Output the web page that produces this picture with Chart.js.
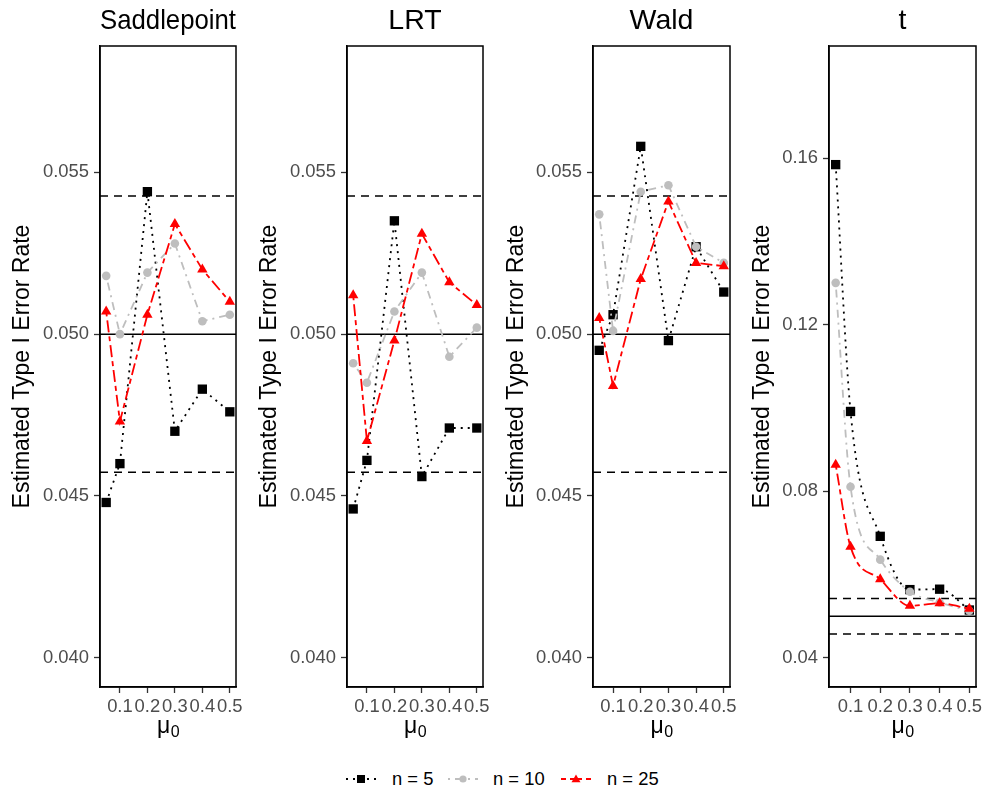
<!DOCTYPE html>
<html>
<head>
<meta charset="utf-8">
<title>Estimated Type I Error Rate</title>
<script src="https://cdn.jsdelivr.net/npm/chart.js@4.4.1/dist/chart.umd.min.js"></script>
<style>
  html, body { margin: 0; padding: 0; background: #fff; }
  #wrap { position: relative; width: 987px; height: 793px; overflow: hidden;
          font-family: "Liberation Sans", Arial, Helvetica, sans-serif; }
  #wrap canvas { position: absolute; top: 0; }
  .key { position: absolute; top: 769px; }
  .lab { position: absolute; top: 768px; font-size: 18.4px; line-height: 22px; color: #000; white-space: nowrap; }
</style>
</head>
<body>
<div id="wrap">
  <canvas id="p0" width="247" height="760" style="left:0px"></canvas>
  <canvas id="p1" width="247" height="760" style="left:247px"></canvas>
  <canvas id="p2" width="247" height="760" style="left:494px"></canvas>
  <canvas id="p3" width="247" height="760" style="left:740px"></canvas>
</div>
<script>
// mu0 values at which the error rates were estimated
const MU0 = [0.05, 0.1, 0.2, 0.3, 0.4, 0.5];
const X_TICKS = [0.1, 0.2, 0.3, 0.4, 0.5];
const X_MIN = 0.0275;
const X_MAX = 0.5225;

const PANEL_TITLES = ['Saddlepoint', 'LRT', 'Wald', 't'];
const SERIES_LABELS = ['n = 5', 'n = 10', 'n = 25'];

// Saddlepoint
const SADDLE_N5  = [0.0448, 0.0460, 0.0544, 0.0470, 0.0483, 0.0476];
const SADDLE_N10 = [0.0518, 0.0500, 0.0519, 0.0528, 0.0504, 0.0506];
const SADDLE_N25 = [0.0507, 0.0473, 0.0506, 0.0534, 0.0520, 0.0510];
// LRT
const LRT_N5  = [0.0446, 0.0461, 0.0535, 0.0456, 0.0471, 0.0471];
const LRT_N10 = [0.0491, 0.0485, 0.0507, 0.0519, 0.0493, 0.0502];
const LRT_N25 = [0.0512, 0.0467, 0.0498, 0.0531, 0.0516, 0.0509];
// Wald
const WALD_N5  = [0.0495, 0.0506, 0.0558, 0.0498, 0.0527, 0.0513];
const WALD_N10 = [0.0537, 0.0501, 0.0544, 0.0546, 0.0527, 0.0522];
const WALD_N25 = [0.0505, 0.0484, 0.0517, 0.0541, 0.0522, 0.0521];
// t
const T_N5  = [0.1585, 0.0992, 0.0692, 0.0564, 0.0565, 0.0515];
const T_N10 = [0.1301, 0.0811, 0.0636, 0.0559, 0.0533, 0.0513];
const T_N25 = [0.0864, 0.0667, 0.0589, 0.0525, 0.0531, 0.0518];

// nominal level and Monte Carlo band
const NOMINAL = 0.05;
const BAND = [0.04573, 0.05427];

const Y_TICKS_ERR = [0.040, 0.045, 0.050, 0.055];
const Y_TICKS_T = [0.04, 0.08, 0.12, 0.16];
const Y_RANGE_ERR = [0.0391, 0.0589];
const Y_RANGE_T = [0.033, 0.187];

const FONT = '"Liberation Sans", Arial, Helvetica, sans-serif';
Chart.defaults.font.family = FONT;

// line/point look for each sample size
const STYLES = [
    { color: '#000000', dash: [2, 5], point: 'rect', radius: 6.6 },
    { color: '#BEBEBE', dash: [2, 5, 8, 5], point: 'circle', radius: 4.3 },
    { color: '#FF0000', dash: [5, 4, 12, 4], point: 'triangle', radius: 6 }
];

// frame around the panel + the mu_0 axis title
const panelFrame = {
    id: 'panelFrame',
    afterDraw(chart) {
        const { ctx, chartArea: a } = chart;
        ctx.save();
        ctx.strokeStyle = '#000';
        ctx.lineWidth = 1.5;
        ctx.strokeRect(a.left, a.top, a.right - a.left, a.bottom - a.top);

        ctx.fillStyle = '#000';
        ctx.textAlign = 'left';
        ctx.textBaseline = 'alphabetic';
        ctx.font = '23px ' + FONT;
        const wMu = ctx.measureText('μ').width;
        ctx.font = '16px ' + FONT;
        const wSub = ctx.measureText('0').width;
        const x0 = (a.left + a.right) / 2 - (wMu + wSub) / 2;
        ctx.font = '23px ' + FONT;
        ctx.fillText('μ', x0, a.bottom + 46);
        ctx.font = '16px ' + FONT;
        ctx.fillText('0', x0 + wMu + 0.5, a.bottom + 50);
        ctx.restore();
    }
};

function refLine(y, dashed) {
    return {
        data: [{ x: X_MIN, y: y }, { x: X_MAX, y: y }],
        borderColor: '#000',
        borderWidth: 1.5,
        borderDash: dashed ? [8, 6] : [],
        pointRadius: 0,
        order: 10
    };
}

function buildPanel(id, title, series, yTicks, yRange, yWidth, digits, smooth) {
    const datasets = series.map((vals, i) => ({
        label: SERIES_LABELS[i],
        data: MU0.map((x, j) => ({ x: x, y: vals[j] })),
        borderColor: STYLES[i].color,
        backgroundColor: STYLES[i].color,
        borderWidth: 1.8,
        borderDash: STYLES[i].dash,
        cubicInterpolationMode: smooth ? 'monotone' : 'default',
        tension: 0,
        pointStyle: STYLES[i].point,
        pointRadius: STYLES[i].radius,
        pointBorderWidth: 0,
        pointBackgroundColor: STYLES[i].color,
        order: 2 - i
    }));
    datasets.push(refLine(NOMINAL, false));
    datasets.push(refLine(BAND[0], true));
    datasets.push(refLine(BAND[1], true));

    return new Chart(document.getElementById(id), {
        type: 'line',
        data: { datasets: datasets },
        plugins: [panelFrame],
        options: {
            responsive: false,
            animation: false,
            events: [],
            layout: { padding: { left: 0, right: 11, top: 0, bottom: 0 } },
            plugins: {
                legend: { display: false },
                tooltip: { enabled: false },
                title: {
                    display: true,
                    text: title,
                    fullSize: false,
                    color: '#000',
                    font: { size: 28.5, weight: 'normal' },
                    padding: { top: 3.8, bottom: 8 }
                }
            },
            scales: {
                x: {
                    type: 'linear',
                    min: X_MIN,
                    max: X_MAX,
                    afterBuildTicks: scale => { scale.ticks = X_TICKS.map(v => ({ value: v })); },
                    afterFit: scale => { scale.height = 73; },
                    ticks: {
                        autoSkip: false,
                        maxRotation: 0,
                        minRotation: 0,
                        padding: 2.5,
                        color: '#4D4D4D',
                        font: { size: 18.4 },
                        callback: v => Number(v).toFixed(1)
                    },
                    grid: { drawOnChartArea: false, drawTicks: true, tickLength: 6, tickColor: '#333', tickWidth: 1.3 },
                    border: { display: true, color: '#000', width: 1.5 },
                    title: { display: false }
                },
                y: {
                    type: 'linear',
                    min: yRange[0],
                    max: yRange[1],
                    afterBuildTicks: scale => { scale.ticks = yTicks.map(v => ({ value: v })); },
                    afterFit: scale => { scale.width = yWidth; },
                    ticks: {
                        autoSkip: false,
                        padding: 5,
                        color: '#4D4D4D',
                        font: { size: 18.4 },
                        callback: v => Number(v).toFixed(digits)
                    },
                    grid: { drawOnChartArea: false, drawTicks: true, tickLength: 6, tickColor: '#333', tickWidth: 1.3 },
                    border: { display: true, color: '#000', width: 1.5 },
                    title: {
                        display: true,
                        text: 'Estimated Type I Error Rate',
                        color: '#000',
                        font: { size: 23 },
                        padding: { top: 9.2, bottom: 0 }
                    }
                }
            }
        }
    });
}

buildPanel('p0', PANEL_TITLES[0], [SADDLE_N5, SADDLE_N10, SADDLE_N25], Y_TICKS_ERR, Y_RANGE_ERR, 100, 3, false);
buildPanel('p1', PANEL_TITLES[1], [LRT_N5, LRT_N10, LRT_N25], Y_TICKS_ERR, Y_RANGE_ERR, 100, 3, false);
buildPanel('p2', PANEL_TITLES[2], [WALD_N5, WALD_N10, WALD_N25], Y_TICKS_ERR, Y_RANGE_ERR, 99, 3, false);
buildPanel('p3', PANEL_TITLES[3], [T_N5, T_N10, T_N25], Y_TICKS_T, Y_RANGE_T, 89, 2, true);

// legend at the bottom (line sample with marker + label)
const KEY_LEFT = [346, 448, 561];
const LABEL_LEFT = [392, 493, 607];
const wrap = document.getElementById('wrap');
STYLES.forEach((s, i) => {
    let marker;
    if (s.point === 'rect') {
        marker = `<rect x="11" y="6" width="8" height="8" fill="${s.color}"/>`;
    } else if (s.point === 'circle') {
        marker = `<circle cx="15" cy="10" r="3.6" fill="${s.color}"/>`;
    } else {
        marker = `<polygon points="15,5.5 19.5,13.3 10.5,13.3" fill="${s.color}"/>`;
    }
    const key = document.createElement('div');
    key.className = 'key';
    key.style.left = KEY_LEFT[i] + 'px';
    key.innerHTML = `<svg width="30" height="20"><line x1="0" y1="10" x2="30" y2="10" stroke="${s.color}" stroke-width="1.8" stroke-dasharray="${s.dash.join(' ')}"/>${marker}</svg>`;
    wrap.appendChild(key);

    const lab = document.createElement('div');
    lab.className = 'lab';
    lab.style.left = LABEL_LEFT[i] + 'px';
    lab.textContent = SERIES_LABELS[i];
    wrap.appendChild(lab);
});
</script>
</body>
</html>
